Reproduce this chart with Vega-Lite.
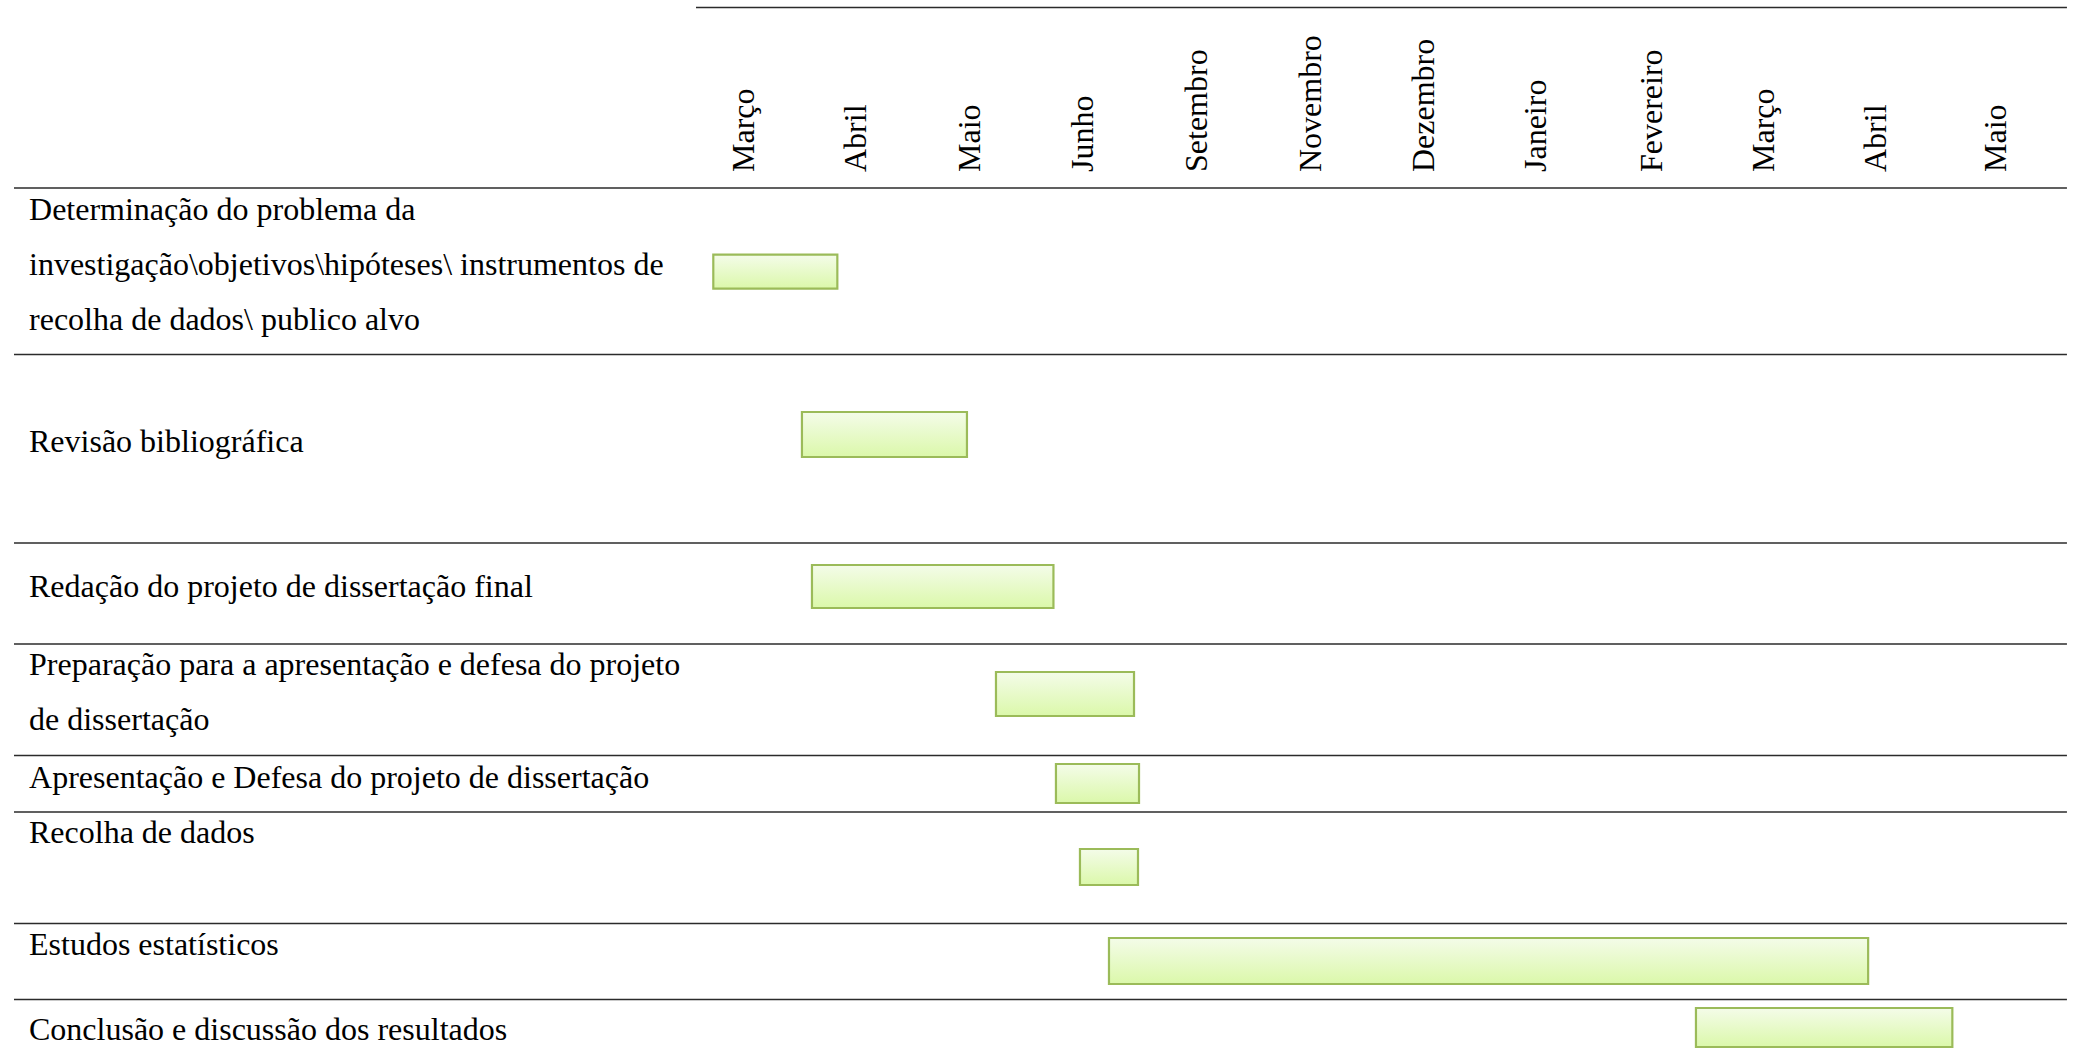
{
  "$schema": "https://vega.github.io/schema/vega-lite/v6.json",
  "width": 2074,
  "height": 1050,
  "padding": 0,
  "autosize": {"type": "fit", "contains": "padding"},
  "background": "white",
  "config": {"view": {"stroke": null}},
  "datasets": {
    "tasks": [
      {"task": "Determinação do problema da\ninvestigação\\objetivos\\hipóteses\\ instrumentos de\nrecolha de dados\\ publico alvo", "labelLine": 219.5, "start": 0.152, "end": 1.242, "barTop": 254.7, "barBottom": 288.7},
      {"task": "Revisão bibliográfica", "labelLine": 452, "start": 0.931, "end": 2.381, "barTop": 412, "barBottom": 457},
      {"task": "Redação do projeto de dissertação final", "labelLine": 597, "start": 1.019, "end": 3.141, "barTop": 565, "barBottom": 608},
      {"task": "Preparação para a apresentação e defesa do projeto\nde dissertação", "labelLine": 675, "start": 2.636, "end": 3.849, "barTop": 672, "barBottom": 716},
      {"task": "Apresentação e Defesa do projeto de dissertação", "labelLine": 788, "start": 3.163, "end": 3.893, "barTop": 764, "barBottom": 803},
      {"task": "Recolha de dados", "labelLine": 843, "start": 3.374, "end": 3.884, "barTop": 849, "barBottom": 885},
      {"task": "Estudos estatísticos", "labelLine": 955, "start": 3.629, "end": 10.30, "barTop": 938, "barBottom": 984},
      {"task": "Conclusão e discussão dos resultados", "labelLine": 1040, "start": 8.787, "end": 11.04, "barTop": 1008, "barBottom": 1047}
    ],
    "months": [
      {"month": "Março", "pos": 0.42},
      {"month": "Abril", "pos": 1.41},
      {"month": "Maio", "pos": 2.41},
      {"month": "Junho", "pos": 3.40},
      {"month": "Setembro", "pos": 4.40},
      {"month": "Novembro", "pos": 5.40},
      {"month": "Dezembro", "pos": 6.40},
      {"month": "Janeiro", "pos": 7.385},
      {"month": "Fevereiro", "pos": 8.40},
      {"month": "Março", "pos": 9.385},
      {"month": "Abril", "pos": 10.37},
      {"month": "Maio", "pos": 11.42}
    ],
    "borders": [
      {"row": 7.5, "from": 0, "to": 12.047},
      {"row": 188, "from": -5.993, "to": 12.047},
      {"row": 354.5, "from": -5.993, "to": 12.047},
      {"row": 543, "from": -5.993, "to": 12.047},
      {"row": 644, "from": -5.993, "to": 12.047},
      {"row": 755.5, "from": -5.993, "to": 12.047},
      {"row": 812, "from": -5.993, "to": 12.047},
      {"row": 923.5, "from": -5.993, "to": 12.047},
      {"row": 999.5, "from": -5.993, "to": 12.047}
    ]
  },
  "layer": [
    {
      "data": {"name": "borders"},
      "mark": {"type": "rule", "color": "#2b2b2b", "strokeWidth": 1.6},
      "encoding": {
        "x": {"field": "from", "type": "quantitative", "scale": {"domain": [-6.116, 12.109]}, "axis": null},
        "x2": {"field": "to"},
        "y": {"field": "row", "type": "quantitative", "scale": {"domain": [0, 1050], "reverse": true}, "axis": null}
      }
    },
    {
      "data": {"name": "months"},
      "mark": {"type": "text", "angle": 270, "align": "left", "baseline": "middle", "font": "Liberation Serif", "fontSize": 32, "color": "black"},
      "encoding": {
        "x": {"field": "pos", "type": "quantitative", "scale": {"domain": [-6.116, 12.109]}, "axis": null},
        "y": {"datum": 172, "type": "quantitative", "scale": {"domain": [0, 1050], "reverse": true}, "axis": null},
        "text": {"field": "month", "type": "nominal"}
      }
    },
    {
      "data": {"name": "tasks"},
      "mark": {"type": "text", "align": "left", "baseline": "alphabetic", "font": "Liberation Serif", "fontSize": 32, "color": "black", "lineBreak": "\n", "lineHeight": 55.3},
      "encoding": {
        "x": {"datum": -5.861, "type": "quantitative", "scale": {"domain": [-6.116, 12.109]}, "axis": null},
        "y": {"field": "labelLine", "type": "quantitative", "scale": {"domain": [0, 1050], "reverse": true}, "axis": null},
        "text": {"field": "task", "type": "nominal"}
      }
    },
    {
      "data": {"name": "tasks"},
      "mark": {
        "type": "rect",
        "fill": {"gradient": "linear", "x1": 0, "y1": 0, "x2": 0, "y2": 1, "stops": [{"offset": 0, "color": "#F4FCE9"}, {"offset": 1, "color": "#DBF8AA"}]},
        "stroke": "#9BBB59",
        "strokeWidth": 2.2
      },
      "encoding": {
        "x": {"field": "start", "type": "quantitative", "scale": {"domain": [-6.116, 12.109]}, "axis": null},
        "x2": {"field": "end"},
        "y": {"field": "barTop", "type": "quantitative", "scale": {"domain": [0, 1050], "reverse": true}, "axis": null},
        "y2": {"field": "barBottom"}
      }
    }
  ]
}
